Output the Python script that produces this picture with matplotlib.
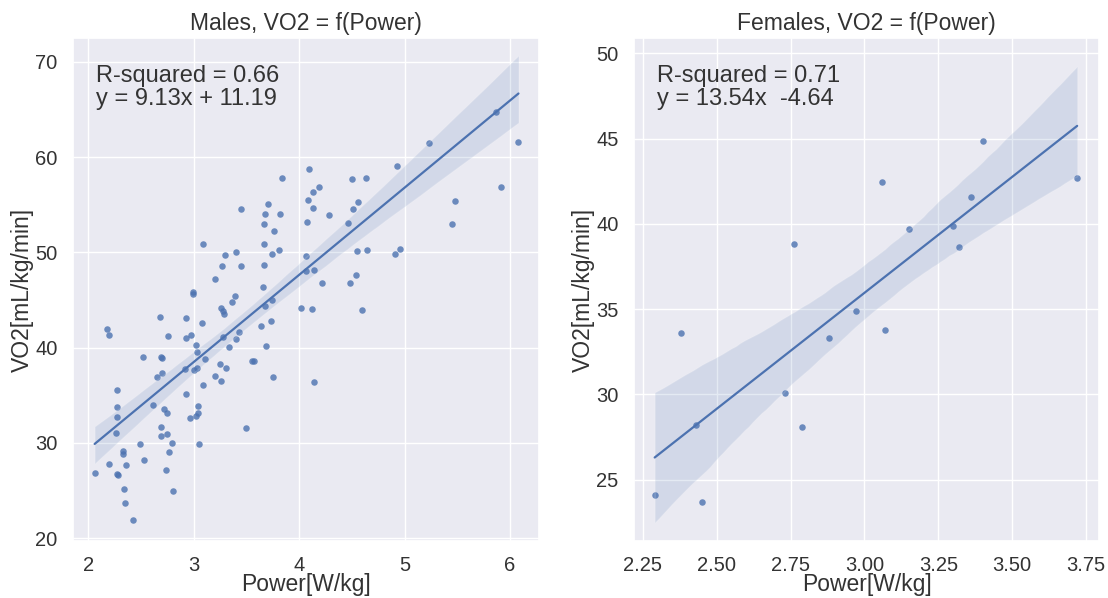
import matplotlib
matplotlib.use("Agg")
import matplotlib.pyplot as plt
import seaborn as sns
import numpy as np

# Males: power (W/kg) and VO2 (mL/kg/min)
male_power = [
    4.09, 3.84, 4.13, 4.08, 4.13, 3.45, 3.70, 3.68, 3.82, 3.67,
    3.76, 4.07, 3.09, 3.67, 3.81, 3.74, 3.40, 3.30, 3.27, 3.45,
    3.67, 4.06, 4.06, 4.14, 3.20, 3.66, 2.99, 2.99, 3.39, 3.36,
    3.74, 3.68, 4.02, 4.12, 4.60, 3.26, 3.28, 3.29, 2.18, 2.20,
    2.68, 2.93, 3.08, 3.64, 3.73, 3.43, 3.40, 3.28, 2.76, 2.93,
    2.97, 3.02, 3.69, 3.33, 3.03, 2.52, 2.69, 2.70, 3.11, 3.55,
    3.57, 3.25, 3.31, 2.92, 3.00, 3.03, 2.70, 2.65, 3.20, 3.26,
    4.14, 3.75, 3.09, 2.27, 2.93, 2.27, 2.61, 3.04, 2.72, 2.75,
    2.27, 2.96, 3.02, 3.04, 3.50, 2.69, 2.26, 2.69, 2.75, 2.49,
    2.79, 3.05, 2.33, 2.33, 2.77, 2.20, 2.36, 2.53, 2.06, 2.27,
    2.28, 2.74, 2.34, 2.80, 2.35, 2.42, 5.87, 6.08, 5.23, 4.93,
    4.50, 4.63, 4.19, 5.91, 5.48, 4.56, 4.51, 4.28, 4.46, 5.45,
    4.55, 4.64, 4.91, 4.96, 4.22, 4.48, 4.54,
]
male_vo2 = [
    58.7, 57.8, 56.3, 55.5, 54.7, 54.6, 55.1, 54.0, 54.0, 53.0,
    52.2, 53.2, 50.9, 50.9, 50.3, 49.8, 50.0, 49.7, 48.6, 48.6,
    48.7, 49.6, 48.0, 48.2, 47.2, 46.4, 45.8, 45.6, 45.4, 44.8,
    45.0, 44.4, 44.2, 44.1, 43.9, 44.2, 43.8, 43.5, 42.0, 41.3,
    43.2, 43.1, 42.6, 42.3, 42.8, 41.6, 40.9, 41.1, 41.2, 41.0,
    41.3, 40.3, 40.2, 40.1, 39.5, 39.0, 39.0, 38.9, 38.8, 38.6,
    38.6, 38.3, 37.9, 37.8, 37.6, 37.9, 37.3, 36.9, 37.0, 36.5,
    36.4, 36.9, 36.1, 35.6, 35.1, 33.8, 34.0, 33.9, 33.6, 33.1,
    32.7, 32.6, 32.8, 33.1, 31.6, 31.7, 31.0, 30.7, 30.9, 29.9,
    30.0, 29.9, 29.1, 28.8, 29.0, 27.8, 27.7, 28.2, 26.8, 26.7,
    26.6, 27.2, 25.2, 25.0, 23.7, 21.9, 64.7, 61.6, 61.5, 59.1,
    57.7, 57.8, 56.9, 56.9, 55.4, 55.3, 54.6, 53.9, 53.1, 53.0,
    50.1, 50.2, 49.8, 50.4, 46.8, 46.8, 47.6,
]

# Females
female_power = [
    2.76, 2.38, 2.97, 2.88, 2.73, 2.43, 2.79, 2.29, 2.45, 3.40,
    3.06, 3.72, 3.36, 3.15, 3.30, 3.32, 3.07,
]
female_vo2 = [
    38.8, 33.6, 34.9, 33.3, 30.1, 28.2, 28.1, 24.1, 23.7, 44.85,
    42.45, 42.7, 41.6, 39.7, 39.9, 38.65, 33.8,
]

titles = ["Males, VO2 = f(Power)", "Females, VO2 = f(Power)"]
fit_texts = ["R-squared = 0.66\ny = 9.13x + 11.19",
             "R-squared = 0.71\ny = 13.54x  -4.64"]
female_xticks = [2.25, 2.5, 2.75, 3.0, 3.25, 3.5, 3.75]

sns.set_theme(style="darkgrid")
plt.rcParams['font.family'] = ['Liberation Sans', 'DejaVu Sans']

fig = plt.figure(figsize=(11.08, 5.98), dpi=100)
ax1 = fig.add_axes([0.0659, 0.0953, 0.4206, 0.8411])
ax2 = fig.add_axes([0.5722, 0.0953, 0.4197, 0.8411])

panels = [
    (ax1, male_power, male_vo2, (1.855, 6.275), (19.7, 72.5)),
    (ax2, female_power, female_vo2, (2.22, 3.794), (21.4, 50.9)),
]

for i, (ax, px, vo2, xlim, ylim) in enumerate(panels):
    sns.regplot(x=np.array(px), y=np.array(vo2), ax=ax, seed=0,
                scatter_kws={'s': 22, 'linewidths': 0},
                line_kws={'linewidth': 1.6})
    ax.set_xlim(*xlim)
    ax.set_ylim(*ylim)
    ax.set_title(titles[i], fontsize=16.5, color='0.2')
    ax.set_xlabel("Power[W/kg]", fontsize=16.5, color='0.2', labelpad=-1)
    ax.set_ylabel("VO2[mL/kg/min]", fontsize=16.5, color='0.2', labelpad=1)
    ax.tick_params(axis='x', labelsize=14.5, labelcolor='0.2', pad=4.5)
    ax.tick_params(axis='y', labelsize=14.5, labelcolor='0.2', pad=5)
    ax.text(0.05, 0.947, fit_texts[i], transform=ax.transAxes,
            va='top', ha='left', fontsize=17, color='0.2', linespacing=1.05)

ax2.set_xticks(female_xticks)
ax2.set_xticklabels([f"{t:.2f}" for t in female_xticks])

fig.savefig("out.png", dpi=100)
